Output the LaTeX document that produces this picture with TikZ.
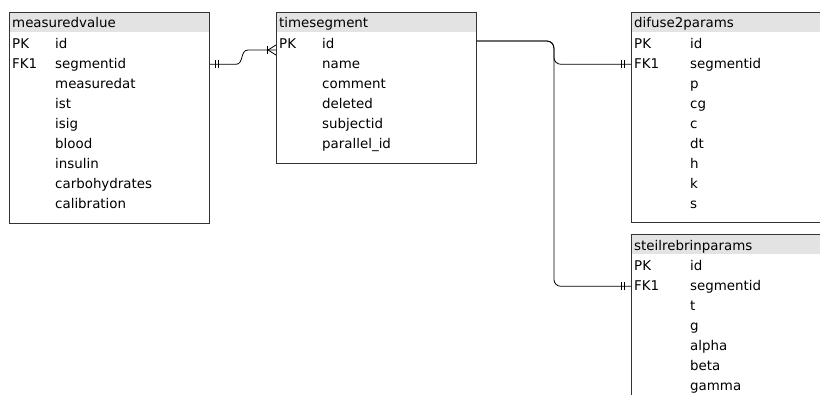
\documentclass[tikz,border=0pt]{standalone}
\usepackage{fontspec}
\setmainfont{DejaVu Sans}
\usetikzlibrary{positioning}

\begin{document}
\begin{tikzpicture}[x=1pt,y=-1pt,
	every node/.style={font=\fontsize{13.4}{16}\selectfont, inner sep=0pt},
	tbl/.style={draw=black!80, line width=0.9pt, fill=white, minimum width=200pt, anchor=north west},
	hdr/.style={fill=black!11, minimum width=199pt, minimum height=19.5pt, anchor=north west},
	fld/.style={anchor=base west},
	rel/.style={line width=0.8pt, rounded corners=7pt},
	tick/.style={line width=0.8pt}]
	\useasboundingbox (0,0) rectangle (820,394);
	\clip (0,0) rectangle (820,394);
	% tables
	\node[tbl, minimum height=211pt] (mv) at (9,12) {};%
	\node[hdr] (mvh) at (9.5,12.5) {};%
	\node[fld] (mvt) at (12,27) {measuredvalue};%
	\node[fld] (mvpk) at (12,48) {PK};%
	\node[fld] (mvfk) at (12,68) {FK1};%
	\foreach \f [count=\i] in {id,segmentid,measuredat,ist,isig,blood,insulin,carbohydrates,calibration}
		\node[fld] (mv-\i) at (55,28+20*\i) {\f};
	\node[tbl, minimum height=151pt] (ts) at (276,12) {};%
	\node[hdr] (tsh) at (276.5,12.5) {};%
	\node[fld] (tst) at (279,27) {timesegment};%
	\node[fld] (tspk) at (279,48) {PK};%
	\foreach \f [count=\i] in {id,name,comment,deleted,subjectid,parallel\_id}
		\node[fld] (ts-\i) at (322,28+20*\i) {\f};
	\node[tbl, minimum height=210pt] (d2) at (631,12) {};%
	\node[hdr] (d2h) at (631.5,12.5) {};%
	\node[fld] (d2t) at (634,27) {difuse2params};%
	\node[fld] (d2pk) at (634,48) {PK};%
	\node[fld] (d2fk) at (634,68) {FK1};%
	\foreach \f [count=\i] in {id,segmentid,p,cg,c,dt,h,k,s}
		\node[fld] (d2-\i) at (690,28+20*\i) {\f};
	\node[tbl, minimum height=200pt] (st) at (631,234) {};%
	\node[hdr] (sth) at (631.5,234.5) {};%
	\node[fld] (stt) at (634,250) {steilrebrinparams};%
	\node[fld] (stpk) at (634,270) {PK};%
	\node[fld] (stfk) at (634,290) {FK1};%
	\foreach \f [count=\i] in {id,segmentid,t,g,alpha,beta,gamma}
		\node[fld] (st-\i) at (690,250+20*\i) {\f};
	% relations
	\coordinate (mvout) at (mv.east |- mv-2);
	\coordinate (tsin) at ([yshift=-7pt]ts.west |- ts-1);
	\coordinate (tsout) at ([yshift=2pt]ts.east |- ts-1);
	\coordinate (d2in) at (d2.west |- d2-2);
	\coordinate (stin) at (st.west |- st-2);
	\draw[line width=0.8pt] (mvout) -- ++(26,0) .. controls +(8,0) and +(-8,0) .. ([xshift=-28pt]tsin) -- (tsin);
	\draw[rel] (tsout) -- ++(77,0) |- (d2in);
	\draw[rel] (tsout) -- ++(77,0) |- (stin);
	% ends
	\draw[tick] ([xshift=5pt]mvout) ++(0,-4) -- ++(0,8) ++(3,0) -- ++(0,-8);
	\draw[tick] ([xshift=-9pt]tsin) ++(0,-4) -- ++(0,8);
	\draw[tick] ([xshift=-8pt]tsin) -- ++(8,-5) ([xshift=-8pt]tsin) -- ++(8,5);
	\draw[tick] ([xshift=-10pt]d2in) ++(0,-4) -- ++(0,8) ++(3,0) -- ++(0,-8);
	\draw[tick] ([xshift=-10pt]stin) ++(0,-4) -- ++(0,8) ++(3,0) -- ++(0,-8);
\end{tikzpicture}
\end{document}
